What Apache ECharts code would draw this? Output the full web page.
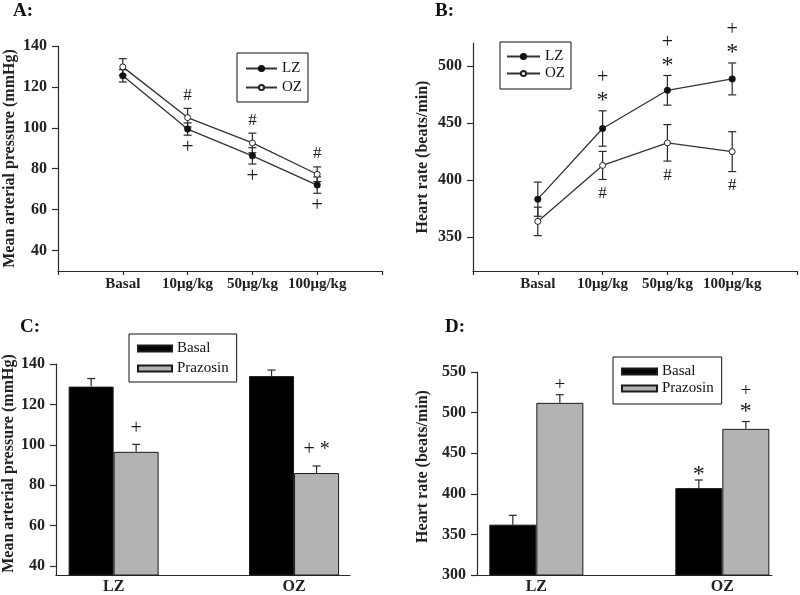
<!DOCTYPE html>
<html><head><meta charset="utf-8">
<script src="https://cdn.jsdelivr.net/npm/echarts@6/dist/echarts.min.js"></script>
<style>html,body{margin:0;padding:0;background:#fff}#c{width:800px;height:595px}</style>
</head><body><div id="c"></div>
<script>
// ---------- data ----------
const doseCats = ['Basal', '10μg/kg', '50μg/kg', '100μg/kg'];
const groups = ['LZ', 'OZ'];

// Panel A: mean arterial pressure (mmHg)
const mapLZ = [125.4, 99.4, 86.3, 72.0];
const mapLZErr = [3.0, 3.0, 4.0, 4.0];
const mapOZ = [129.8, 105.0, 92.6, 77.3];
const mapOZErr = [4.0, 4.5, 4.8, 3.6];

// Panel B: heart rate (beats/min)
const hrLZ = [383, 445, 478.5, 488.5];
const hrLZErr = [15, 15.5, 13, 14];
const hrOZ = [363.5, 412.6, 432.4, 424.7];
const hrOZErr = [12.5, 12.3, 16, 17.5];

// Panel C: MAP basal vs prazosin
const mapBasal = [128.8, 134.0];
const mapBasalErr = [4.0, 3.0];
const mapPraz = [96.5, 86.0];
const mapPrazErr = [3.7, 3.5];

// Panel D: HR basal vs prazosin
const hrBasal = [362, 407];
const hrBasalErr = [11.5, 10];
const hrPraz = [512, 480];
const hrPrazErr = [10, 9];

// tick labels
const mapTicks = [40, 60, 80, 100, 120, 140];
const hrTicksB = [350, 400, 450, 500];
const hrTicksD = [300, 350, 400, 450, 500, 550];

// significance marks
const annA_aboveOZ = ['', '#', '#', '#'];
const annA_belowLZ = ['', '+', '+', '+'];
const annB_aboveLZ_star = ['', '*', '*', '*'];
const annB_aboveLZ_plus = ['', '+', '+', '+'];
const annB_belowOZ = ['', '#', '#', '#'];
const annC_abovePraz = ['+', '+ *'];
const annD_aboveBasal = ['', '*'];
const annD_abovePraz_star = ['', '*'];
const annD_abovePraz_plus = ['+', '+'];

// ---------- styling ----------
const FONT = "'Liberation Serif','Times New Roman',serif";
const INK = '#2a2a2a';
const BAR_C = 45, BAR_D = 47;

function errSeries(axis, means, errs, opt) {
  opt = opt || {};
  const dx = opt.dx || 0, upOnly = !!opt.upOnly, cap = opt.cap || 4;
  return {
    type: 'custom', xAxisIndex: axis, yAxisIndex: axis, z: opt.z || 1, clip: false, silent: true,
    encode: { x: 0, y: [1, 2] },
    data: means.map((m, i) => [i + 1, upOnly ? m : m - errs[i], m + errs[i]]),
    renderItem: function (params, api) {
      const x = api.value(0);
      const lo = api.coord([x, api.value(1)]);
      const hi = api.coord([x, api.value(2)]);
      const cx = lo[0] + dx;
      const st = { stroke: INK, lineWidth: 1.2 };
      const ch = [
        { type: 'line', shape: { x1: cx, y1: lo[1], x2: cx, y2: hi[1] }, style: st },
        { type: 'line', shape: { x1: cx - cap, y1: hi[1], x2: cx + cap, y2: hi[1] }, style: st }
      ];
      if (!upOnly) ch.push({ type: 'line', shape: { x1: cx - cap, y1: lo[1], x2: cx + cap, y2: lo[1] }, style: st });
      return { type: 'group', children: ch };
    }
  };
}

function annSeries(axis, texts, anchors, dx, dy, fontSize, perPointDy) {
  const pts = [], txt = [], extra = [];
  texts.forEach((t, i) => { if (t) { pts.push([i + 1, anchors[i]]); txt.push(t); extra.push(perPointDy ? perPointDy[i] : 0); } });
  return {
    type: 'custom', xAxisIndex: axis, yAxisIndex: axis, z: 5, clip: false, silent: true,
    data: pts,
    renderItem: function (params, api) {
      const p = api.coord([api.value(0), api.value(1)]);
      return {
        type: 'text', x: p[0] + dx, y: p[1] + dy + extra[params.dataIndex],
        style: { text: txt[params.dataIndex], fontFamily: FONT, fontSize: fontSize, fill: '#1a1a1a', align: 'center', verticalAlign: 'middle' }
      };
    }
  };
}

const add = (a, b) => a.map((v, i) => v + b[i]);
const sub = (a, b) => a.map((v, i) => v - b[i]);

const axisLineCfg = { show: true, lineStyle: { color: INK, width: 1.2 } };
const tickLbl = { fontFamily: FONT, fontWeight: 'bold', fontSize: 16, color: '#222' };

function yAxisCfg(idx, min, max, ticks, name, gap, namePad) {
  return {
    gridIndex: idx, type: 'value', min: min, max: max,
    axisLine: axisLineCfg,
    axisTick: { show: true, length: 6, customValues: ticks, lineStyle: { color: INK, width: 1.2 } },
    axisLabel: Object.assign({ customValues: ticks, margin: 11 }, tickLbl),
    splitLine: { show: false },
    name: name, nameLocation: 'middle', nameRotate: 90, nameGap: gap,
    nameTextStyle: { fontFamily: FONT, fontWeight: 'bold', fontSize: 16, color: '#222', padding: [0, 0, 0, namePad || 0] }
  };
}
function doseXAxis(idx) {
  return {
    gridIndex: idx, type: 'value', min: 0, max: 5, interval: 1,
    axisLine: axisLineCfg,
    axisTick: { show: true, length: 4, lineStyle: { color: INK, width: 1.2 } },
    axisLabel: { formatter: v => doseCats[v - 1] || '', fontFamily: FONT, fontWeight: 'bold', fontSize: 15, color: '#222', margin: 6 },
    splitLine: { show: false }
  };
}
function groupXAxis(idx, min, max) {
  return {
    gridIndex: idx, type: 'value', min: min, max: max,
    axisLine: axisLineCfg, axisTick: { show: false },
    axisLabel: { customValues: [1, 2], formatter: v => groups[v - 1] || '', fontFamily: FONT, fontWeight: 'bold', fontSize: 16, color: '#222', margin: 4 },
    splitLine: { show: false }
  };
}
function titleCfg(t, left, top) {
  return { text: t, left: left, top: top, padding: 0, textStyle: { fontFamily: FONT, fontWeight: 'bold', fontSize: 19, color: '#111' } };
}
const legendText = { fontFamily: FONT, fontSize: 15, color: '#111' };

function lineSeries(name, axis, vals, hollow) {
  return {
    type: 'line', name: name, xAxisIndex: axis, yAxisIndex: axis, z: 3,
    data: vals.map((v, i) => [i + 1, v]),
    symbol: 'circle', symbolSize: hollow ? 6 : 6.5, showSymbol: true,
    lineStyle: { color: '#333', width: 1.3 },
    itemStyle: hollow ? { color: '#fff', borderColor: '#222', borderWidth: 1 } : { color: '#111', borderColor: '#111', borderWidth: 0.5 }
  };
}
function barSeries(name, axis, vals, w, color) {
  return {
    type: 'bar', name: name, xAxisIndex: axis, yAxisIndex: axis, z: 2,
    data: vals.map((v, i) => [i + 1, v]), barWidth: w, barGap: '0%',
    itemStyle: { color: color, borderColor: '#1a1a1a', borderWidth: 1 }
  };
}

const option = {
  animation: false,
  backgroundColor: '#fff',
  title: [titleCfg('A:', 13, 2), titleCfg('B:', 435, 2), titleCfg('C:', 20, 318), titleCfg('D:', 445, 318)],
  grid: [
    { left: 58, top: 46, width: 324, height: 225 },
    { left: 473, top: 43, width: 325, height: 228 },
    { left: 54, top: 364, width: 296, height: 214 },
    { left: 477, top: 372, width: 295, height: 206 }
  ],
  legend: [
    { data: ['LZ', 'OZ'], orient: 'vertical', left: 237, top: 53, padding: [8, 6, 7, 8], itemGap: 4, itemWidth: 31, itemHeight: 6.5,
      borderColor: '#111', borderWidth: 1, textStyle: legendText, selectedMode: false },
    { data: ['LZ', 'OZ'], orient: 'vertical', left: 500, top: 42, padding: [7, 6, 8, 6], itemGap: 2, itemWidth: 33, itemHeight: 6.5,
      borderColor: '#111', borderWidth: 1, textStyle: legendText, selectedMode: false },
    { data: ['Basal', 'Prazosin'], orient: 'vertical', left: 129, top: 334, padding: [7, 8, 6, 8], itemGap: 5, itemWidth: 34, itemHeight: 6,
      borderColor: '#111', borderWidth: 1, textStyle: legendText, selectedMode: false, icon: 'rect' },
    { data: ['Basal', 'Prazosin'], orient: 'vertical', left: 613, top: 357, padding: [7, 8, 8, 8], itemGap: 2, itemWidth: 35, itemHeight: 6,
      borderColor: '#111', borderWidth: 1, textStyle: legendText, selectedMode: false, icon: 'rect' }
  ],
  xAxis: [doseXAxis(0), doseXAxis(1), groupXAxis(2, 0.68, 2.31), groupXAxis(3, 0.681, 2.267)],
  yAxis: [
    yAxisCfg(0, 30, 140, mapTicks, 'Mean arterial pressure (mmHg)', 40, 0),
    yAxisCfg(1, 320, 520, hrTicksB, 'Heart rate (beats/min)', 42, 0),
    yAxisCfg(2, 35.5, 140, mapTicks, 'Mean arterial pressure (mmHg)', 36, 12),
    yAxisCfg(3, 300, 550, hrTicksD, 'Heart rate (beats/min)', 46, 14)
  ],
  series: [
    // A
    errSeries(0, mapLZ, mapLZErr), errSeries(0, mapOZ, mapOZErr),
    lineSeries('LZ', 0, mapLZ, false), lineSeries('OZ', 0, mapOZ, true),
    annSeries(0, annA_aboveOZ, add(mapOZ, mapOZErr), 0, -13, 17),
    annSeries(0, annA_belowLZ, sub(mapLZ, mapLZErr), 0, 12, 21),
    // B
    errSeries(1, hrLZ, hrLZErr), errSeries(1, hrOZ, hrOZErr),
    lineSeries('LZ', 1, hrLZ, false), lineSeries('OZ', 1, hrOZ, true),
    annSeries(1, annB_aboveLZ_star, add(hrLZ, hrLZErr), 0, -10, 24),
    annSeries(1, annB_aboveLZ_plus, add(hrLZ, hrLZErr), 0, -33, 20),
    annSeries(1, annB_belowOZ, sub(hrOZ, hrOZErr), 0, 14, 17),
    // C
    barSeries('Basal', 2, mapBasal, BAR_C, '#000'), barSeries('Prazosin', 2, mapPraz, BAR_C, '#b3b3b3'),
    errSeries(2, mapBasal, mapBasalErr, { dx: -BAR_C / 2, upOnly: true, z: 3 }),
    errSeries(2, mapPraz, mapPrazErr, { dx: BAR_C / 2, upOnly: true, z: 3 }),
    annSeries(2, annC_abovePraz, add(mapPraz, mapPrazErr), BAR_C / 2, -16, 20),
    // D
    barSeries('Basal', 3, hrBasal, BAR_D, '#000'), barSeries('Prazosin', 3, hrPraz, BAR_D, '#b3b3b3'),
    errSeries(3, hrBasal, hrBasalErr, { dx: -BAR_D / 2, upOnly: true, z: 3 }),
    errSeries(3, hrPraz, hrPrazErr, { dx: BAR_D / 2, upOnly: true, z: 3 }),
    annSeries(3, annD_aboveBasal, add(hrBasal, hrBasalErr), -BAR_D / 2, -5, 24),
    annSeries(3, annD_abovePraz_star, add(hrPraz, hrPrazErr), BAR_D / 2, -10, 24),
    annSeries(3, annD_abovePraz_plus, add(hrPraz, hrPrazErr), BAR_D / 2, 0, 19, [-10, -31])
  ]
};

const chart = echarts.init(document.getElementById('c'), null, { renderer: 'canvas' });
chart.setOption(option);
</script>
</body></html>
